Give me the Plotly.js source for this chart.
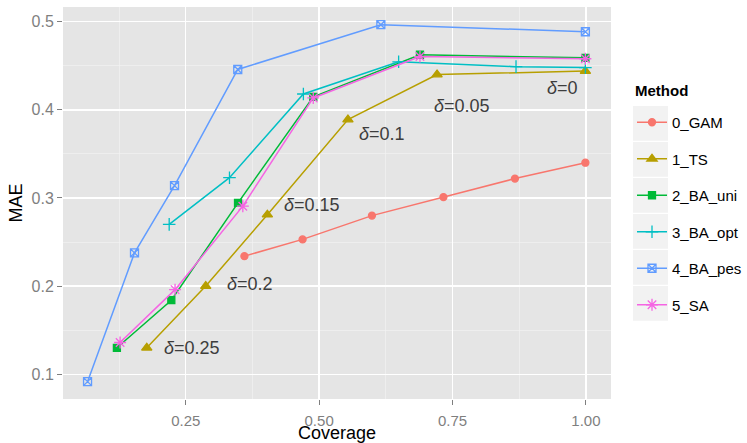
<!DOCTYPE html>
<html>
<head>
<meta charset="utf-8">
<script src="https://cdn.plot.ly/plotly-3.0.1.min.js"></script>
<style>html,body{margin:0;padding:0;background:#fff;}#chart{width:747px;height:443px;}</style>
</head>
<body>
<div id="chart"></div>
<script>
// Data
var methods = ["0_GAM", "1_TS", "2_BA_uni", "3_BA_opt", "4_BA_pes", "5_SA"];

var gamX = [0.360, 0.469, 0.599, 0.733, 0.867, 0.999];
var gamY = [0.234, 0.253, 0.280, 0.301, 0.322, 0.340];

var tsX = [0.177, 0.2875, 0.403, 0.554, 0.721, 0.999];
var tsY = [0.130, 0.200, 0.281, 0.389, 0.440, 0.444];

var baUniX = [0.121, 0.223, 0.348, 0.489, 0.689, 0.999];
var baUniY = [0.130, 0.184, 0.2945, 0.4147, 0.4625, 0.459];

var baOptX = [0.219, 0.332, 0.4705, 0.649, 0.869, 0.999];
var baOptY = [0.270, 0.323, 0.418, 0.4545, 0.449, 0.448];

var baPesX = [0.066, 0.154, 0.229, 0.3475, 0.6157, 0.999];
var baPesY = [0.0916, 0.2377, 0.314, 0.4458, 0.4966, 0.4886];

var saX = [0.127, 0.230, 0.357, 0.489, 0.689, 0.999];
var saY = [0.136, 0.196, 0.2907, 0.4135, 0.4605, 0.458];

var deltaLabels = ["0.25", "0.2", "0.15", "0.1", "0.05", "0"];
var deltaX = [0.2056, 0.3245, 0.4303, 0.5712, 0.7118, 0.9240];
var deltaY = [0.1300, 0.2025, 0.2915, 0.3730, 0.4040, 0.4245];

var colors = ["#F8766D", "#B79F00", "#00BA38", "#00BFC4", "#619CFF", "#F564E3"];
var symbols = ["circle", "triangle-up", "square", "cross-thin-open", "square-x-open", "asterisk-open"];
var msizes = [7, 9, 7, 9, 8, 10];

var xs = [gamX, tsX, baUniX, baOptX, baPesX, saX];
var ys = [gamY, tsY, baUniY, baOptY, baPesY, saY];

var traces = methods.map(function (m, i) {
  return {
    x: xs[i], y: ys[i], name: m, type: "scatter", mode: "lines+markers",
    legendgroup: m,
    line: {color: colors[i], width: 1.5},
    marker: {color: colors[i], symbol: symbols[i], size: msizes[i],
             line: {color: colors[i], width: 1.3}}
  };
});

var annotations = deltaLabels.map(function (d, i) {
  return {
    x: deltaX[i], y: deltaY[i], xref: "x", yref: "y",
    text: "<i>δ</i>=" + d, showarrow: false, xanchor: "left", yanchor: "middle",
    font: {family: "Liberation Sans, Arial, sans-serif", size: 18, color: "#3d3d3d"}
  };
});
// legend title
annotations.push({
  x: (632.7 - 63) / 548, y: (399 - 90.7) / 392, xref: "paper", yref: "paper",
  text: "<b>Method</b>", showarrow: false, xanchor: "left", yanchor: "middle",
  font: {family: "Liberation Sans, Arial, sans-serif", size: 15, color: "#000000"}
});

// legend key backgrounds
var shapes = [];
for (var k = 0; k < methods.length; k++) {
  var boxTop = 106 + k * 36, boxBot = boxTop + 34.7;
  shapes.push({
    type: "rect", xref: "paper", yref: "paper",
    x0: (633 - 63) / 548, x1: (668 - 63) / 548,
    y0: (399 - boxBot) / 392, y1: (399 - boxTop) / 392,
    fillcolor: "#f2f2f2", line: {width: 0}, layer: "below"
  });
}

var yTickFont = {family: "Liberation Sans, Arial, sans-serif", size: 16, color: "#7f7f7f"};
var xTickFont = {family: "Liberation Sans, Arial, sans-serif", size: 15, color: "#7f7f7f"};

var layout = {
  width: 747, height: 443,
  margin: {l: 63, r: 136, t: 7, b: 44, pad: 0, autoexpand: false},
  paper_bgcolor: "#ffffff",
  plot_bgcolor: "#e5e5e5",
  font: {family: "Liberation Sans, Arial, sans-serif"},
  showlegend: true,
  xaxis: {
    range: [0.020, 1.047], tick0: 0, dtick: 0.25, tickformat: ".2f",
    showgrid: true, gridcolor: "#ffffff", gridwidth: 1.3,
    minor: {dtick: 0.125, tick0: 0, showgrid: true, gridcolor: "#f2f2f2", gridwidth: 0.7, ticks: ""},
    zeroline: false, showline: false,
    ticks: "outside", ticklen: 5, tickwidth: 1, tickcolor: "#7f7f7f",
    tickfont: xTickFont, ticklabelstandoff: 3,
    title: {text: "Coverage", font: {size: 18, color: "#000000"}, standoff: 4}
  },
  yaxis: {
    range: [0.0719, 0.5167], tick0: 0, dtick: 0.1, tickformat: ".1f",
    showgrid: true, gridcolor: "#ffffff", gridwidth: 1.3,
    minor: {dtick: 0.05, tick0: 0, showgrid: true, gridcolor: "#f2f2f2", gridwidth: 0.7, ticks: ""},
    zeroline: false, showline: false,
    ticks: "outside", ticklen: 5, tickwidth: 1, tickcolor: "#7f7f7f",
    tickfont: yTickFont,
    title: {text: "MAE", font: {size: 18, color: "#000000"}, standoff: 4}
  },
  legend: {
    x: (632 - 63) / 548, y: (399 - 106) / 392, xanchor: "left", yanchor: "top",
    bgcolor: "rgba(0,0,0,0)", borderwidth: 0,
    tracegroupgap: 14,
    font: {size: 15, color: "#000000"},
    itemwidth: 30
  },
  annotations: annotations,
  shapes: shapes
};

Plotly.newPlot("chart", traces, layout, {displayModeBar: false, staticPlot: true});
</script>
</body>
</html>
